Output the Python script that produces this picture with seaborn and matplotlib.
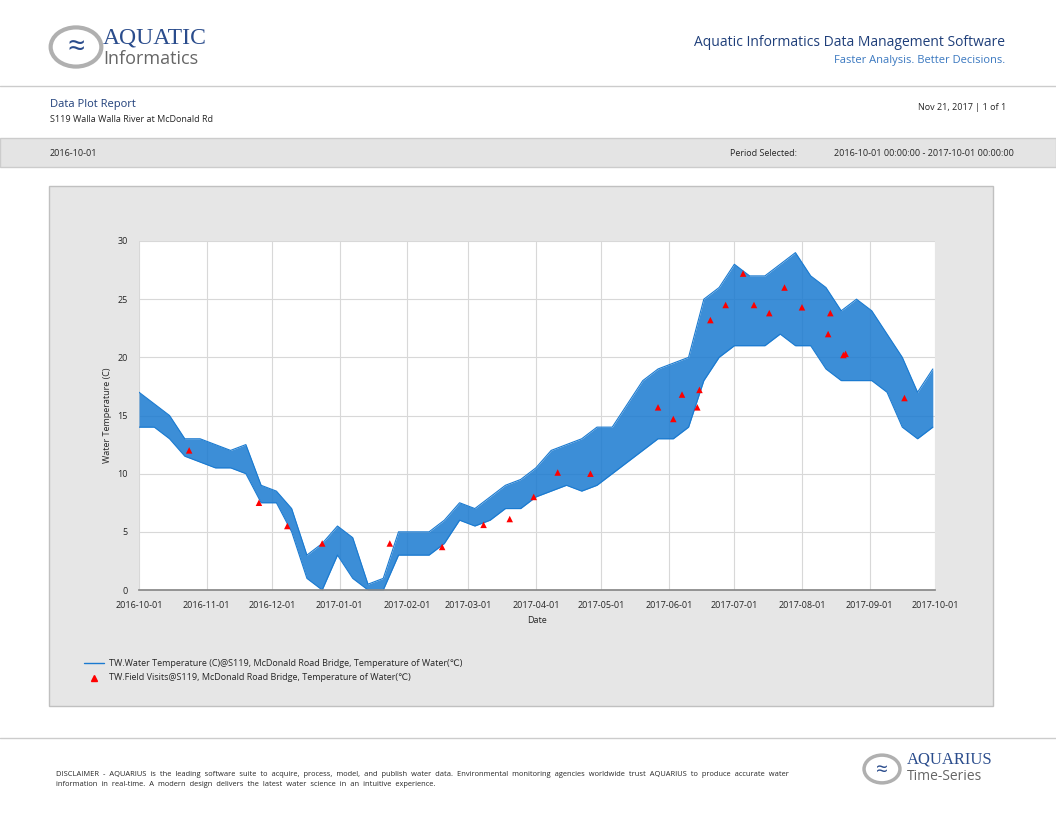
import matplotlib
matplotlib.use("Agg")
import matplotlib.pyplot as plt
import matplotlib.patches as mp
import matplotlib.dates as mdates
import seaborn as sns
import pandas as pd

sns.set_theme(style="whitegrid")
plt.rcParams['font.family'] = ['Open Sans', 'DejaVu Sans']

dates = ["2016-10-01","2016-10-08","2016-10-15","2016-10-22","2016-10-29","2016-11-05","2016-11-12","2016-11-19",
         "2016-11-26","2016-12-03","2016-12-10","2016-12-17","2016-12-24","2016-12-31","2017-01-07","2017-01-14",
         "2017-01-21","2017-01-28","2017-02-04","2017-02-11","2017-02-18","2017-02-25","2017-03-04","2017-03-11",
         "2017-03-18","2017-03-25","2017-04-01","2017-04-08","2017-04-15","2017-04-22","2017-04-29","2017-05-06",
         "2017-05-13","2017-05-20","2017-05-27","2017-06-03","2017-06-10","2017-06-17","2017-06-24","2017-07-01",
         "2017-07-08","2017-07-15","2017-07-22","2017-07-29","2017-08-05","2017-08-12","2017-08-19","2017-08-26",
         "2017-09-02","2017-09-09","2017-09-16","2017-09-23","2017-09-30"]
low = [14,14,13,11.5,11,10.5,10.5,10,7.5,7.5,5,1,0,3,1,0,0,3,3,3,4,6,5.5,6,7,7,8,8.5,9,8.5,9,10,11,12,13,13,14,
       18,20,21,21,21,22,21,21,19,18,18,18,17,14,13,14]
high = [17,16,15,13,13,12.5,12,12.5,9,8.5,7,3,4,5.5,4.5,0.5,1,5,5,5,6,7.5,7,8,9,9.5,10.5,12,12.5,13,14,14,16,18,19,
        19.5,20,25,26,28,27,27,28,29,27,26,24,25,24,22,20,17,19]

fv_dates = ["2016-10-24","2016-11-25","2016-12-08","2016-12-24","2017-01-24","2017-02-17","2017-03-08","2017-03-20",
            "2017-03-31","2017-04-11","2017-04-26","2017-05-27","2017-06-03","2017-06-07","2017-06-14","2017-06-15",
            "2017-06-20","2017-06-27","2017-07-05","2017-07-10","2017-07-17","2017-07-24","2017-08-01","2017-08-13",
            "2017-08-14","2017-08-20","2017-08-21","2017-09-17"]
fv_vals = [12,7.5,5.5,4,4,3.7,5.6,6.1,8,10.1,10,15.7,14.7,16.8,15.7,17.2,23.2,24.5,27.2,24.5,23.8,26,24.3,22,23.8,
           20.2,20.3,16.5]

df = pd.DataFrame({"date": pd.to_datetime(dates), "low": low, "high": high})
fv = pd.DataFrame({"date": pd.to_datetime(fv_dates), "val": fv_vals})

fig = plt.figure(figsize=(10.56, 8.16), dpi=100)
W, H = 1056, 816
def fx(x): return x / W
def fy(y): return 1 - y / H

# header
fig.add_artist(mp.Circle((fx(76), fy(47)), 0.024, transform=fig.transFigure, fc="white", ec="#b0b0b0", lw=3))
fig.text(fx(76), fy(48), "≈", color="#2a4c8c", fontsize=22, ha="center", va="center")
fig.text(fx(103), fy(38), "AQUATIC", color="#2a4c8c", fontsize=17, va="center", family=["Liberation Serif"])
fig.text(fx(103), fy(59), "Informatics", color="#666666", fontsize=13, va="center")
fig.text(fx(1005), fy(42), "Aquatic Informatics Data Management Software", color="#1f3f7a", fontsize=10, ha="right", va="center")
fig.text(fx(1005), fy(60), "Faster Analysis. Better Decisions.", color="#3a78c0", fontsize=8, ha="right", va="center")
fig.add_artist(plt.Line2D([0, 1], [fy(86), fy(86)], transform=fig.transFigure, color="#cccccc", lw=1))
fig.text(fx(50), fy(105), "Data Plot Report", color="#1f3f7a", fontsize=8, va="center")
fig.text(fx(50), fy(120), "S119 Walla Walla River at McDonald Rd", fontsize=6.5, va="center")
fig.text(fx(1006), fy(107), "Nov 21, 2017 | 1 of 1", fontsize=6.5, ha="right", va="center")
fig.add_artist(mp.Rectangle((0, fy(167)), 1, (167 - 138) / H, transform=fig.transFigure, fc="#e4e4e4", ec="#cccccc"))
fig.text(fx(50), fy(153), "2016-10-01", fontsize=6.5, va="center")
fig.text(fx(730), fy(153), "Period Selected:", fontsize=6.5, va="center")
fig.text(fx(1014), fy(153), "2016-10-01 00:00:00 - 2017-10-01 00:00:00", fontsize=6.5, ha="right", va="center")
fig.add_artist(mp.Rectangle((fx(49), fy(706)), (993 - 49) / W, (706 - 186) / H, transform=fig.transFigure,
                            fc="#e6e6e6", ec="#c0c0c0", zorder=-5))

ax = fig.add_axes([fx(139), fy(590), (935 - 139) / W, (590 - 241) / H])
ax.set_zorder(2)
ax.set_facecolor("white")
ax.fill_between(df["date"], df["low"], df["high"], color="#1a7ad0", alpha=0.85, lw=0)
sns.lineplot(data=df, x="date", y="high", ax=ax, color="#1a7ad0", lw=0.8)
sns.lineplot(data=df, x="date", y="low", ax=ax, color="#1a7ad0", lw=0.8)
sns.scatterplot(data=fv, x="date", y="val", ax=ax, marker="^", color="red", s=22, edgecolor="none", zorder=5)
ax.set_xlim(pd.Timestamp("2016-10-01"), pd.Timestamp("2017-10-01"))
ax.set_ylim(0, 30)
ax.set_yticks(range(0, 31, 5))
ax.xaxis.set_major_locator(mdates.MonthLocator())
ax.xaxis.set_major_formatter(mdates.DateFormatter("%Y-%m-%d"))
ax.grid(True, color="#d8d8d8", lw=0.8)
for s in ax.spines.values():
    s.set_visible(False)
ax.spines["bottom"].set_visible(True); ax.spines["bottom"].set_color("#888888")
ax.tick_params(labelsize=6.5, pad=2)
ax.set_xlabel("Date", fontsize=6.5)
ax.set_ylabel("Water Temperature (C)", fontsize=6.5)

fig.add_artist(plt.Line2D([fx(84), fx(104)], [fy(663)] * 2, transform=fig.transFigure, color="#1a7ad0", lw=1))
fig.text(fx(109), fy(663), "TW.Water Temperature (C)@S119, McDonald Road Bridge, Temperature of Water(℃)", fontsize=6.5, va="center")
fig.add_artist(plt.Line2D([fx(94)], [fy(678)], transform=fig.transFigure, marker="^", color="red", ms=4, lw=0))
fig.text(fx(109), fy(678), "TW.Field Visits@S119, McDonald Road Bridge, Temperature of Water(℃)", fontsize=6.5, va="center")

# footer
fig.add_artist(plt.Line2D([0, 1], [fy(738), fy(738)], transform=fig.transFigure, color="#cccccc", lw=1))
fig.text(fx(56), fy(780), "DISCLAIMER  -  AQUARIUS  is  the  leading  software  suite  to  acquire,  process,  model,  and  publish  water  data.  "
         "Environmental  monitoring  agencies  worldwide  trust  AQUARIUS  to  produce  accurate  water\n"
         "information  in  real-time.  A  modern  design  delivers  the  latest  water  science  in  an  intuitive  experience.",
         fontsize=5.4, va="center", linespacing=1.6)
fig.add_artist(mp.Circle((fx(882), fy(769)), 0.017, transform=fig.transFigure, fc="white", ec="#b0b0b0", lw=2.5))
fig.text(fx(882), fy(770), "≈", color="#2a4c8c", fontsize=15, ha="center", va="center")
fig.text(fx(907), fy(760), "AQUARIUS", color="#2a4c8c", fontsize=12, va="center", family=["Liberation Serif"])
fig.text(fx(907), fy(777), "Time-Series", color="#666666", fontsize=10, va="center")

fig.savefig("out.png", dpi=100, facecolor="white")
